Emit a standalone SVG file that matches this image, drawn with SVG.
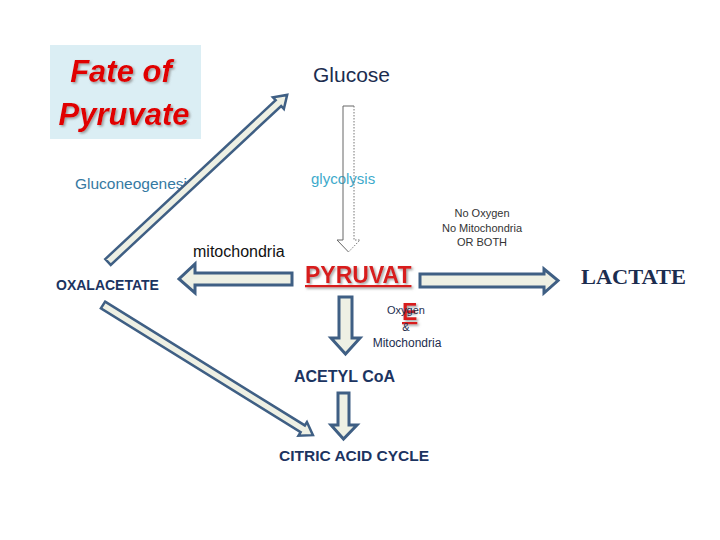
<svg xmlns="http://www.w3.org/2000/svg" width="720" height="540" viewBox="0 0 720 540">
<defs>
<style>
.t{font-family:"Liberation Sans",Arial,sans-serif}
.navy{fill:#1c3461;font-weight:bold}
.arr{fill:#eef0e4;stroke:#3f5f84;stroke-width:3;stroke-linejoin:miter}
.thin{fill:#eef0e4;stroke:#3f5f84;stroke-width:2.5;stroke-linejoin:miter}
</style>
<filter id="sh" x="-10%" y="-10%" width="130%" height="130%">
<feDropShadow dx="1.5" dy="1.5" stdDeviation="0.8" flood-color="#888" flood-opacity="0.8"/>
</filter>
</defs>
<rect width="720" height="540" fill="#fff"/>

<g id="title">
<rect x="50" y="45" width="151" height="94" fill="#dbeef4"/>
<g class="t" font-weight="bold" font-style="italic" font-size="31" fill="#e00000" text-anchor="middle" filter="url(#sh)">
<text x="121" y="82">Fate of</text>
<text x="124" y="125">Pyruvate</text>
</g>
</g>

<g id="glucose"><text class="t" x="313" y="82" font-size="21" fill="#1c2d4f">Glucose</text></g>
<g id="glycolysis-label"><text class="t" x="311" y="184" font-size="15" fill="#3daacb">glycolysis</text></g>
<g id="gluconeogenesis-label"><text class="t" x="75" y="189" font-size="15.5" fill="#3579a2">Gluconeogenesis</text></g>
<g id="mito-label"><text class="t" x="193" y="257" font-size="16" fill="#111">mitochondria</text></g>
<g id="oxalacetate"><text class="t navy" x="56" y="290" font-size="14">OXALACETATE</text></g>
<g id="pyruvate">
<g class="t" font-weight="bold" fill="#d81e1e" font-size="23" filter="url(#sh)">
<text x="305" y="283" text-decoration="underline">PYRUVAT</text>
<text x="402" y="320" text-decoration="underline">E</text>
</g>
</g>
<g id="conditions-right" class="t" font-size="11" fill="#333" text-anchor="middle">
<text x="482" y="217">No Oxygen</text>
<text x="482" y="232">No Mitochondria</text>
<text x="482" y="246">OR BOTH</text>
</g>
<g id="conditions-down" class="t" fill="#1c2d4f" text-anchor="middle">
<text x="406" y="314" font-size="11">Oxygen</text>
<text x="406" y="331" font-size="11">&amp;</text>
<text x="407" y="347" font-size="12">Mitochondria</text>
</g>
<g id="lactate"><text x="581" y="284" font-family="'Liberation Serif','Times New Roman',serif" font-weight="bold" font-size="20" fill="#1c2d4f" textLength="105" lengthAdjust="spacingAndGlyphs">LACTATE</text></g>
<g id="acetyl"><text class="t navy" x="294" y="382" font-size="16">ACETYL CoA</text></g>
<g id="citric"><text class="t navy" x="279" y="461" font-size="15.5">CITRIC ACID CYCLE</text></g>

<g id="connectors">
<!-- glycolysis: glucose to pyruvate -->
<polyline points="354,106 343,106 343,240 337,240 348.5,252" fill="none" stroke="#666" stroke-width="1"/>
<polyline points="354,106 354,240 360,240 348.5,252" fill="none" stroke="#777" stroke-width="1" stroke-dasharray="1.5,1.5"/>
<!-- gluconeogenesis: oxalacetate to glucose -->
<polygon class="thin" transform="translate(108,262) rotate(-43)" points="0,-4 233,-4 233,-8 245,0 233,8 233,4 0,4"/>
<!-- pyruvate to oxalacetate -->
<polygon class="arr" points="292,273 195,273 195,264 179,279 195,293 195,285 292,285"/>
<!-- pyruvate to lactate -->
<polygon class="arr" points="420,274 544,274 544,269 558,280.5 544,293 544,287 420,287"/>
<!-- pyruvate to acetyl coa -->
<polygon class="arr" points="339,297 352,297 352,338 360,338 345.5,354 331,338 339,338"/>
<!-- acetyl coa to citric acid cycle -->
<polygon class="arr" points="338,393 349,393 349,425 357,425 343.5,439 331,425 338,425"/>
<!-- oxalacetate to citric acid cycle -->
<polygon class="thin" transform="translate(103,305) rotate(31.8)" points="0,-4 235,-4 235,-8 247,0 235,8 235,4 0,4"/>
</g>
</svg>
